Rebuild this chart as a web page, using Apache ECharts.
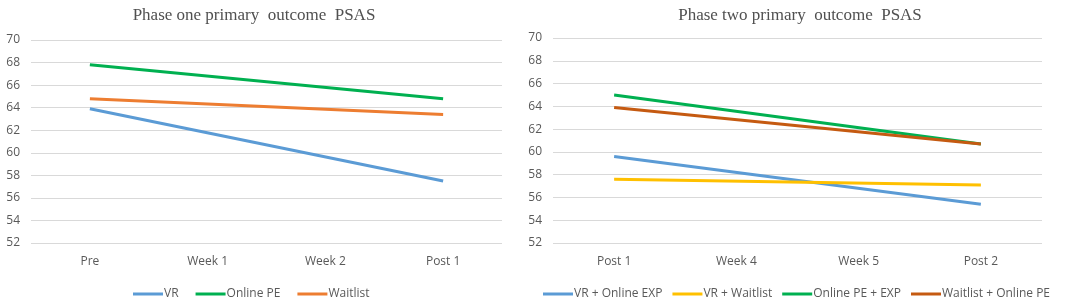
<!DOCTYPE html>
<html>
<head>
<meta charset="utf-8">
<script src="https://cdn.jsdelivr.net/npm/echarts@6/dist/echarts.min.js"></script>
<style>
  html, body { margin: 0; padding: 0; background: #fff; }
  #chart { width: 1065px; height: 305px; }
</style>
</head>
<body>
<div id="chart"></div>
<script>
// phase one
const phaseOneCategories = ['Pre', 'Week 1', 'Week 2', 'Post 1']
const vr = [63.9, null, null, 57.5]
const onlinePE = [67.8, null, null, 64.8]
const waitlist = [64.8, null, null, 63.4]

// phase two
const phaseTwoCategories = ['Post 1', 'Week 4', 'Week 5', 'Post 2']
const vrOnlineExp = [59.6, null, null, 55.4]
const vrWaitlist = [57.6, null, null, 57.1]
const onlinePEExp = [65.0, null, null, 60.7]
const waitlistOnlinePE = [63.9, null, null, 60.7]

const yMin = 52
const yMax = 70
const yStep = 2

const labelColor = '#595959'
const sansFont = 'Open Sans, sans-serif'
const titleFont = 'Liberation Serif, serif'

const makeX = (idx, data) => ({
  type: 'category',
  gridIndex: idx,
  data: data,
  boundaryGap: true,
  axisLine: { show: false },
  axisTick: { show: false },
  axisLabel: { color: labelColor, fontSize: 12, fontFamily: sansFont, margin: 13 }
})

const makeY = (idx) => ({
  type: 'value',
  gridIndex: idx,
  min: yMin,
  max: yMax,
  interval: yStep,
  axisLine: { show: false },
  axisTick: { show: false },
  axisLabel: { color: labelColor, fontSize: 12, fontFamily: sansFont, margin: 11 },
  splitLine: { lineStyle: { color: '#d9d9d9', width: 1 } }
})

const makeLine = (name, data, color, idx) => ({
  name: name,
  type: 'line',
  xAxisIndex: idx,
  yAxisIndex: idx,
  data: data,
  connectNulls: true,
  symbol: 'none',
  lineStyle: { width: 3, color: color },
  itemStyle: { color: color }
})

const chart = echarts.init(document.getElementById('chart'))
chart.setOption({
  animation: false,
  title: [
    {
      text: 'Phase one primary  outcome  PSAS',
      left: 249, top: 2, textAlign: 'center',
      textStyle: { fontFamily: titleFont, fontWeight: 'normal', fontSize: 17, color: '#505050' }
    },
    {
      text: 'Phase two primary  outcome  PSAS',
      left: 795, top: 2, textAlign: 'center',
      textStyle: { fontFamily: titleFont, fontWeight: 'normal', fontSize: 17, color: '#505050' }
    }
  ],
  legend: [
    {
      data: ['VR', 'Online PE', 'Waitlist'],
      left: 128, top: 283, orient: 'horizontal',
      itemWidth: 30, itemHeight: 3, itemGap: 17,
      icon: 'rect',
      textStyle: { color: labelColor, fontSize: 12, fontFamily: sansFont, padding: [0, 0, 0, -4] }
    },
    {
      data: ['VR + Online EXP', 'VR + Waitlist', 'Online PE + EXP', 'Waitlist + Online PE'],
      left: 538, top: 283, width: 527, orient: 'horizontal',
      itemWidth: 30, itemHeight: 3, itemGap: 10,
      icon: 'rect',
      textStyle: { color: labelColor, fontSize: 12, fontFamily: sansFont, padding: [0, 0, 0, -4] }
    }
  ],
  grid: [
    { left: 31, top: 40, width: 471, height: 203 },
    { left: 553, top: 38, width: 489, height: 205 }
  ],
  xAxis: [makeX(0, phaseOneCategories), makeX(1, phaseTwoCategories)],
  yAxis: [makeY(0), makeY(1)],
  series: [
    makeLine('VR', vr, '#5b9bd5', 0),
    makeLine('Online PE', onlinePE, '#00b050', 0),
    makeLine('Waitlist', waitlist, '#ed7d31', 0),
    makeLine('VR + Online EXP', vrOnlineExp, '#5b9bd5', 1),
    makeLine('VR + Waitlist', vrWaitlist, '#ffc000', 1),
    makeLine('Online PE + EXP', onlinePEExp, '#00b050', 1),
    makeLine('Waitlist + Online PE', waitlistOnlinePE, '#c55a11', 1)
  ]
})
</script>
</body>
</html>
